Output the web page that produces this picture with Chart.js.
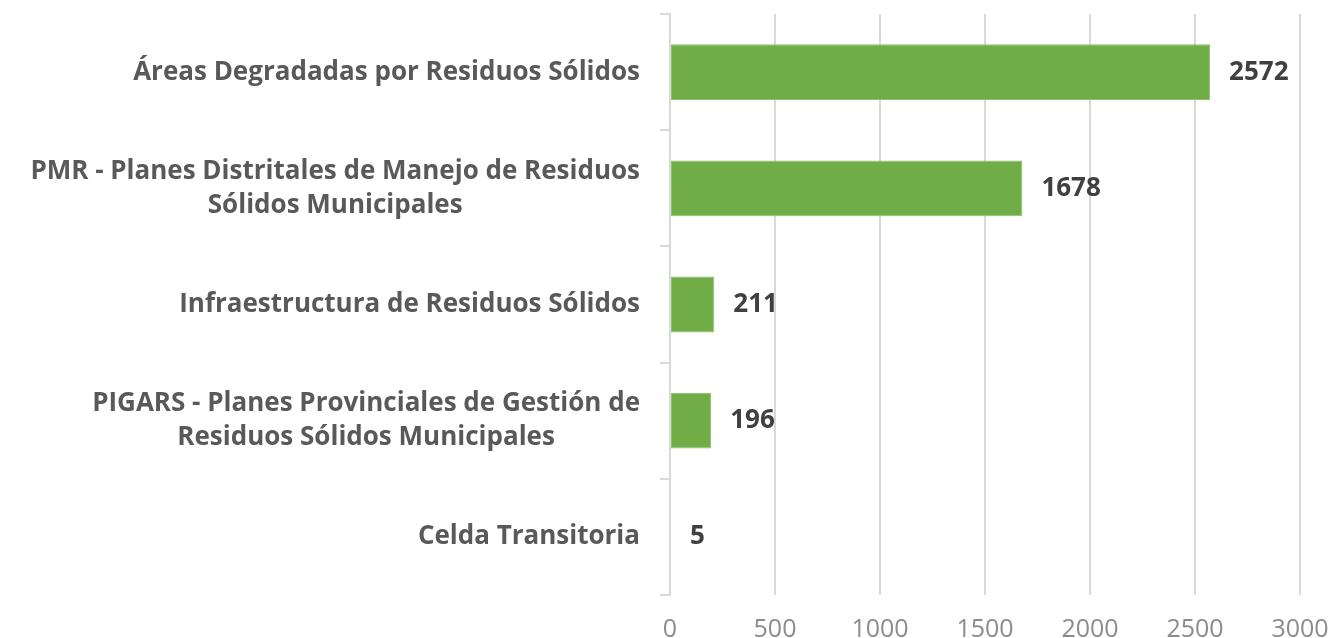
<!DOCTYPE html>
<html>
<head>
<meta charset="utf-8">
<script src="https://cdn.jsdelivr.net/npm/chart.js@4/dist/chart.umd.min.js"></script>
<style>
  body { margin: 0; background: #fff; }
  #wrap { width: 1337px; height: 638px; }
</style>
</head>
<body>
<div id="wrap"><canvas id="chart" width="1337" height="638"></canvas></div>
<script>
// categories (multi-line labels as arrays)
const categories = [
  ['Áreas Degradadas por Residuos Sólidos'],
  ['PMR - Planes Distritales de Manejo de Residuos', 'Sólidos Municipales'],
  ['Infraestructura de Residuos Sólidos'],
  ['PIGARS - Planes Provinciales de Gestión de', 'Residuos Sólidos Municipales'],
  ['Celda Transitoria']
];
const values = [2572, 1678, 211, 196, 5];
const xTicks = [0, 500, 1000, 1500, 2000, 2500, 3000];

const labelFont = 'bold 26px "Open Sans"';
const gridColor = '#d9d9d9';

// draws the category names: block right aligned to the axis, lines centred inside the block
const catLabels = {
  id: 'catLabels',
  afterDraw(chart) {
    const ctx = chart.ctx;
    const y = chart.scales.y;
    ctx.save();
    ctx.font = labelFont;
    ctx.fillStyle = '#595959';
    ctx.textBaseline = 'middle';
    ctx.textAlign = 'center';
    const right = y.right - 30;
    const lh = 34;
    categories.forEach((lines, i) => {
      const w = Math.max(...lines.map(l => ctx.measureText(l).width));
      const cx = right - w / 2;
      const cy = y.getPixelForValue(i);
      lines.forEach((l, k) => {
        ctx.fillText(l, cx, cy + (k - (lines.length - 1) / 2) * lh);
      });
    });
    ctx.restore();
  }
};

// value labels after each bar end
const valueLabels = {
  id: 'valueLabels',
  afterDatasetsDraw(chart) {
    const ctx = chart.ctx;
    const meta = chart.getDatasetMeta(0);
    ctx.save();
    ctx.font = labelFont;
    ctx.fillStyle = '#404040';
    ctx.textBaseline = 'middle';
    ctx.textAlign = 'left';
    meta.data.forEach((bar, i) => {
      ctx.fillText(String(values[i]), bar.x + 19, bar.y);
    });
    ctx.restore();
  }
};

new Chart(document.getElementById('chart'), {
  type: 'bar',
  data: {
    labels: categories.map(c => c.join(' ')),
    datasets: [{
      data: values,
      backgroundColor: '#70ad47',
      borderColor: '#8cc26a',
      borderWidth: 1,
      borderSkipped: false,
      barPercentage: 0.48,
      categoryPercentage: 1
    }]
  },
  options: {
    indexAxis: 'y',
    responsive: false,
    animation: false,
    layout: { padding: { top: 14, right: 37, left: 0, bottom: 0 } },
    plugins: {
      legend: { display: false },
      tooltip: { enabled: false }
    },
    scales: {
      x: {
        min: 0,
        max: 3000,
        afterBuildTicks(scale) {
          scale.ticks = xTicks.map(v => ({ value: v }));
        },
        grid: { color: gridColor, lineWidth: 2, drawTicks: false },
        border: { display: false },
        ticks: {
          color: '#8c8c8c',
          padding: 20,
          font: { family: 'Open Sans', size: 25 },
          callback: v => String(v)
        },
        afterFit(scale) {
          scale.height = 43;
          scale.paddingRight = 0;
          scale.paddingLeft = 0;
        }
      },
      y: {
        grid: {
          display: true,
          drawOnChartArea: false,
          offset: true,
          tickLength: 10,
          color: gridColor,
          lineWidth: 2
        },
        border: { display: true, color: gridColor, width: 2 },
        ticks: { display: false },
        afterFit(scale) { scale.width = 670; }
      }
    }
  },
  plugins: [catLabels, valueLabels]
});
</script>
</body>
</html>
